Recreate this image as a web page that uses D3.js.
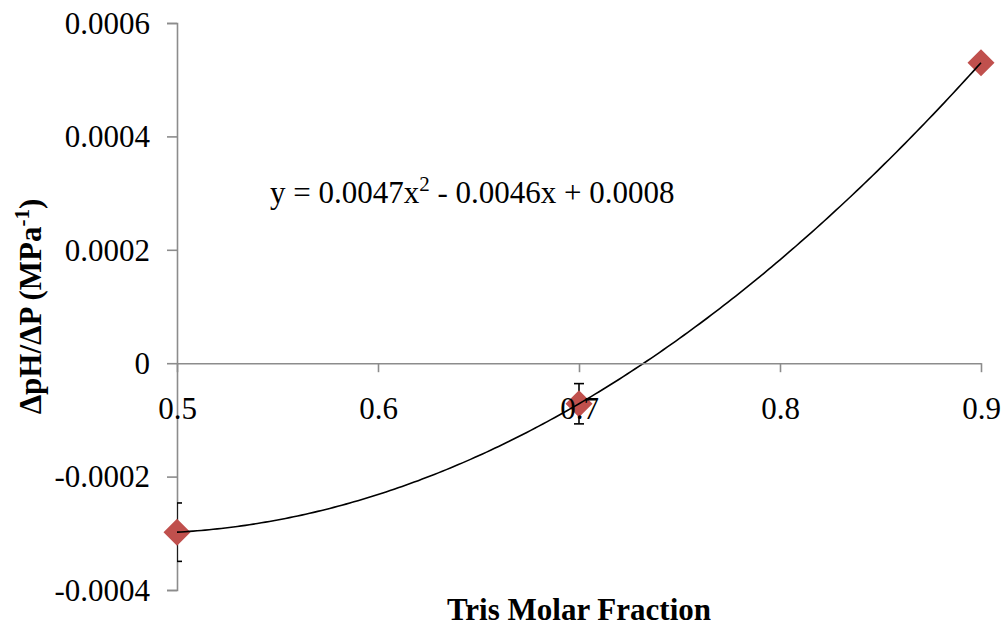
<!DOCTYPE html>
<html>
<head>
<meta charset="utf-8">
<script src="https://cdn.jsdelivr.net/npm/d3@7"></script>
<style>
  html, body { margin: 0; padding: 0; background: #fff; }
  svg { display: block; }
</style>
</head>
<body>
<svg id="chart" width="1004" height="629"></svg>
<script>
// ---- data ----
const xValues = [0.5, 0.7, 0.9];
const yValues = [-0.000298, -0.0000715, 0.00053];
const yErrors = [0.0000515, 0.0000355, 0.000005];
const xTicks = [0.5, 0.6, 0.7, 0.8, 0.9];
const yTicks = [-0.0004, -0.0002, 0, 0.0002, 0.0004, 0.0006];
const yTickLabels = ["-0.0004", "-0.0002", "0", "0.0002", "0.0004", "0.0006"];
const xTickLabels = ["0.5", "0.6", "0.7", "0.8", "0.9"];
const equationMain = "y = 0.0047x";
const equationSup = "2";
const equationRest = " - 0.0046x + 0.0008";
const xTitle = "Tris Molar Fraction";
const yTitleMain = "ΔpH/ΔP (MPa";
const yTitleSup = "-1";
const yTitleEnd = ")";

// ---- layout ----
const svg = d3.select("#chart");
const font = "'Liberation Serif', 'Times New Roman', serif";
const axisColor = "#8c8c8c";
const markerColor = "#c0504d";

const x = d3.scaleLinear().domain([0.5, 0.9]).range([177, 981]);
const y = d3.scaleLinear().domain([-0.0004, 0.0006]).range([590, 23]);

svg.append("rect").attr("width", 1004).attr("height", 629).attr("fill", "#fff");

// y axis
const yAxis = d3.axisLeft(y).tickValues(yTicks).tickSize(10).tickSizeOuter(10)
  .tickFormat((d, i) => yTickLabels[i]).tickPadding(17);
const gy = svg.append("g").attr("transform", `translate(${x(0.5)},0)`).call(yAxis);
gy.select(".domain").attr("stroke", axisColor).attr("stroke-width", 1.6);
gy.selectAll(".tick line").attr("stroke", axisColor).attr("stroke-width", 1.6);
gy.selectAll(".tick text").attr("font-family", font).attr("font-size", 31)
  .attr("fill", "#000").attr("dy", "0.33em");

// x axis (crosses at y=0)
const xAxis = d3.axisBottom(x).tickValues(xTicks).tickSize(9).tickSizeOuter(0)
  .tickFormat((d, i) => xTickLabels[i]).tickPadding(25);
const gx = svg.append("g").attr("transform", `translate(0,${y(0)})`).call(xAxis);
gx.select(".domain").attr("stroke", axisColor).attr("stroke-width", 1.6);
gx.selectAll(".tick line").attr("stroke", axisColor).attr("stroke-width", 1.6);
gx.selectAll(".tick text").attr("font-family", font).attr("font-size", 31).attr("fill", "#000");

// clip to plot area
svg.append("clipPath").attr("id", "plotclip").append("rect")
  .attr("x", x(0.5)).attr("y", 0).attr("width", x(0.9) - x(0.5) + 40).attr("height", 629);

const data = xValues.map((v, i) => ({ x: v, y: yValues[i], e: yErrors[i] }));

// error bars
const eb = svg.append("g").attr("clip-path", "url(#plotclip)")
  .attr("stroke", "#000").attr("stroke-width", 1.6);
data.forEach(d => {
  eb.append("line").attr("x1", x(d.x)).attr("x2", x(d.x))
    .attr("y1", y(d.y - d.e)).attr("y2", y(d.y + d.e));
  [d.y - d.e, d.y + d.e].forEach(v => {
    eb.append("line").attr("x1", x(d.x) - 5).attr("x2", x(d.x) + 5)
      .attr("y1", y(v)).attr("y2", y(v));
  });
});

// markers
svg.append("g").selectAll("path").data(data).join("path")
  .attr("d", d3.symbol().type(d3.symbolSquare).size(2 * 13.5 * 13.5 ))
  .attr("transform", d => `translate(${x(d.x)},${y(d.y)}) rotate(45)`)
  .attr("fill", markerColor);

// polynomial trendline (least-squares quadratic from data)
function quadFit(xs, ys) {
  const n = xs.length;
  let S = [0, 0, 0, 0, 0], T = [0, 0, 0];
  for (let i = 0; i < n; i++) {
    for (let k = 0; k < 5; k++) S[k] += Math.pow(xs[i], k);
    for (let k = 0; k < 3; k++) T[k] += ys[i] * Math.pow(xs[i], k);
  }
  const M = [[S[0], S[1], S[2], T[0]], [S[1], S[2], S[3], T[1]], [S[2], S[3], S[4], T[2]]];
  for (let c = 0; c < 3; c++) {
    for (let r = c + 1; r < 3; r++) {
      const f = M[r][c] / M[c][c];
      for (let k = c; k < 4; k++) M[r][k] -= f * M[c][k];
    }
  }
  const sol = [0, 0, 0];
  for (let r = 2; r >= 0; r--) {
    let s = M[r][3];
    for (let k = r + 1; k < 3; k++) s -= M[r][k] * sol[k];
    sol[r] = s / M[r][r];
  }
  return sol; // c, b, a
}
const [c0, c1, c2] = quadFit(xValues, yValues);
const curve = d3.range(0, 201).map(i => {
  const xv = 0.5 + 0.4 * i / 200;
  return [xv, c0 + c1 * xv + c2 * xv * xv];
});
svg.append("path").datum(curve)
  .attr("d", d3.line().x(d => x(d[0])).y(d => y(d[1])))
  .attr("fill", "none").attr("stroke", "#000").attr("stroke-width", 1.6);

// bring x tick labels on top
gx.raise();

// equation
const eq = svg.append("text").attr("x", 270).attr("y", 203)
  .attr("font-family", font).attr("font-size", 31).attr("fill", "#000");
eq.append("tspan").text(equationMain);
eq.append("tspan").attr("dy", -12).attr("font-size", 21).text(equationSup);
eq.append("tspan").attr("dy", 12).text(equationRest);

// x title
svg.append("text").attr("x", (x(0.5) + x(0.9)) / 2).attr("y", 620)
  .attr("text-anchor", "middle").attr("font-family", font).attr("font-size", 31)
  .attr("font-weight", "bold").attr("fill", "#000").text(xTitle);

// y title
const yt = svg.append("text")
  .attr("transform", `translate(41,${(y(0.0006) + y(-0.0004)) / 2}) rotate(-90)`)
  .attr("text-anchor", "middle").attr("font-family", font).attr("font-size", 31)
  .attr("font-weight", "bold").attr("fill", "#000");
yt.append("tspan").text(yTitleMain);
yt.append("tspan").attr("dy", -12).attr("font-size", 21).text(yTitleSup);
yt.append("tspan").attr("dy", 12).text(yTitleEnd);
</script>
</body>
</html>
